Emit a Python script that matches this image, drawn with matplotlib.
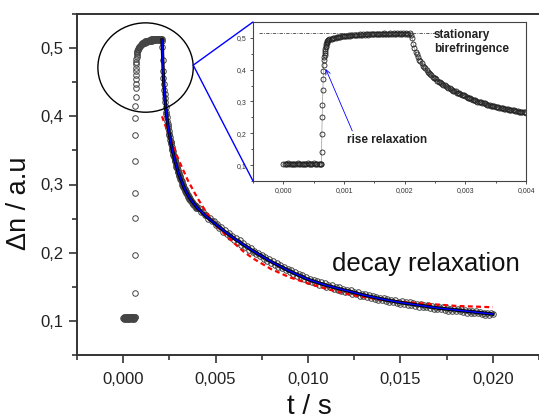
import numpy as np
import matplotlib
matplotlib.use('Agg')
import matplotlib.pyplot as plt
from matplotlib.patches import Ellipse, ConnectionPatch
from matplotlib.ticker import MultipleLocator, FuncFormatter

plt.rcParams['font.family'] = ['Liberation Sans', 'DejaVu Sans']

# measured birefringence: baseline, rise, plateau, early decay, late decay
base_t0, base_dt = 0.0, 0.00002
base_y = [0.104, 0.105, 0.103, 0.104, 0.106, 0.104, 0.103, 0.105, 0.104, 0.103,
          0.105, 0.104, 0.106, 0.103, 0.104, 0.105, 0.104, 0.103, 0.105, 0.104,
          0.106, 0.104, 0.103, 0.105, 0.104, 0.106, 0.103, 0.104, 0.105, 0.103,
          0.104, 0.105]
rise_t0, rise_dt = 0.000625, 0.000005
rise_y = [0.105, 0.141, 0.197, 0.251, 0.288, 0.335, 0.372, 0.397, 0.415, 0.429, 0.441,
          0.447, 0.454, 0.460, 0.466, 0.471, 0.476, 0.480, 0.484, 0.487, 0.490, 0.493]
plat_t0, plat_dt = 0.00074, 0.00002
plat_y = [0.494, 0.496, 0.497, 0.498, 0.499, 0.500, 0.501, 0.502, 0.503, 0.503,
          0.504, 0.505, 0.505, 0.506, 0.506, 0.507, 0.507, 0.508, 0.507, 0.508,
          0.509, 0.508, 0.509, 0.510, 0.509, 0.510, 0.511, 0.510, 0.509, 0.511,
          0.510, 0.511, 0.512, 0.510, 0.511, 0.512, 0.511, 0.513, 0.512, 0.511,
          0.512, 0.513, 0.511, 0.512, 0.513, 0.512, 0.514, 0.512, 0.513, 0.512,
          0.513, 0.514, 0.512, 0.513, 0.514, 0.513, 0.512, 0.514, 0.513, 0.514,
          0.513, 0.512, 0.514, 0.513, 0.514, 0.513, 0.512, 0.514]
dec1_t0, dec1_dt = 0.00210, 0.00002
dec1_y = [0.510, 0.501, 0.482, 0.467, 0.456, 0.448, 0.439, 0.432, 0.427, 0.421,
          0.413, 0.407, 0.404, 0.399, 0.393, 0.389, 0.386, 0.383, 0.378, 0.374,
          0.373, 0.370, 0.365, 0.362, 0.362, 0.359, 0.355, 0.352, 0.351, 0.349,
          0.345, 0.343, 0.342, 0.340, 0.336, 0.334, 0.334, 0.332, 0.328, 0.326,
          0.326, 0.324, 0.321, 0.319, 0.319, 0.317, 0.314, 0.312, 0.312, 0.311,
          0.308, 0.306, 0.306, 0.305, 0.302, 0.300, 0.300, 0.299, 0.297, 0.295,
          0.295, 0.294, 0.292, 0.290, 0.290, 0.289, 0.287, 0.286, 0.286, 0.285,
          0.283, 0.282, 0.282, 0.281, 0.279, 0.279, 0.279, 0.277, 0.276, 0.276,
          0.275, 0.274, 0.274, 0.272, 0.272, 0.272, 0.270, 0.270, 0.270, 0.268,
          0.268, 0.268, 0.266, 0.267, 0.266, 0.265]
dec2_t0, dec2_dt = 0.0041, 0.0001
dec2_y = [0.265, 0.260, 0.259, 0.255, 0.256, 0.250, 0.251, 0.246, 0.246, 0.241,
          0.242, 0.236, 0.237, 0.231, 0.233, 0.227, 0.229, 0.223, 0.225, 0.219,
          0.221, 0.215, 0.218, 0.212, 0.214, 0.208, 0.210, 0.204, 0.207, 0.201,
          0.203, 0.198, 0.200, 0.195, 0.197, 0.191, 0.194, 0.188, 0.191, 0.185,
          0.188, 0.182, 0.185, 0.179, 0.182, 0.177, 0.179, 0.174, 0.176, 0.171,
          0.174, 0.169, 0.171, 0.166, 0.169, 0.164, 0.167, 0.162, 0.164, 0.159,
          0.162, 0.157, 0.160, 0.155, 0.158, 0.153, 0.157, 0.152, 0.155, 0.150,
          0.153, 0.149, 0.152, 0.147, 0.150, 0.146, 0.149, 0.144, 0.147, 0.143,
          0.146, 0.142, 0.145, 0.140, 0.143, 0.139, 0.142, 0.137, 0.140, 0.136,
          0.139, 0.135, 0.138, 0.133, 0.136, 0.132, 0.135, 0.131, 0.134, 0.130,
          0.133, 0.129, 0.132, 0.128, 0.131, 0.127, 0.130, 0.126, 0.128, 0.125,
          0.129, 0.125, 0.128, 0.124, 0.127, 0.123, 0.126, 0.122, 0.125, 0.121,
          0.125, 0.121, 0.124, 0.120, 0.123, 0.119, 0.122, 0.118, 0.121, 0.117,
          0.121, 0.117, 0.120, 0.116, 0.119, 0.115, 0.118, 0.114, 0.117, 0.114,
          0.118, 0.114, 0.117, 0.113, 0.116, 0.112, 0.115, 0.111, 0.114, 0.111,
          0.115, 0.111, 0.113, 0.110, 0.112, 0.109, 0.112, 0.108, 0.111, 0.110]

# fitted curves
fit_t = [0.0021, 0.00212, 0.00216, 0.0022, 0.00228, 0.0024, 0.0026, 0.0028, 0.0030, 0.0033,
         0.0036, 0.0040, 0.0045, 0.0050, 0.0055, 0.0060, 0.0065, 0.0070, 0.0075, 0.0080,
         0.0085, 0.0090, 0.0095, 0.0100, 0.0110, 0.0120, 0.0130, 0.0140, 0.0150, 0.0160,
         0.0170, 0.0180, 0.0190, 0.0200]
fit_y = [0.512, 0.500, 0.468, 0.447, 0.420, 0.390, 0.358, 0.335, 0.316, 0.295,
         0.280, 0.266, 0.253, 0.242, 0.231, 0.221, 0.212, 0.203, 0.195, 0.187,
         0.180, 0.173, 0.167, 0.161, 0.152, 0.145, 0.138, 0.132, 0.127, 0.123,
         0.119, 0.116, 0.113, 0.110]
mono_t = [0.0021, 0.0025, 0.0030, 0.0035, 0.0040, 0.0045, 0.0050, 0.0055, 0.0060, 0.0065,
          0.0070, 0.0075, 0.0080, 0.0090, 0.0100, 0.0110, 0.0120, 0.0130, 0.0140, 0.0150,
          0.0160, 0.0170, 0.0180, 0.0190, 0.0200]
mono_y = [0.400, 0.370, 0.336, 0.306, 0.281, 0.259, 0.241, 0.227, 0.214, 0.202,
          0.192, 0.184, 0.176, 0.164, 0.155, 0.147, 0.140, 0.135, 0.131, 0.128,
          0.126, 0.124, 0.122, 0.121, 0.120]
stationary = 0.515

segs = [(base_t0, base_dt, base_y), (rise_t0, rise_dt, rise_y), (plat_t0, plat_dt, plat_y),
        (dec1_t0, dec1_dt, dec1_y), (dec2_t0, dec2_dt, dec2_y)]
t = np.concatenate([t0 + dt * np.arange(len(y)) for t0, dt, y in segs])
dn = np.concatenate([np.array(y) for _, _, y in segs])


def comma(d):
    return FuncFormatter(lambda v, p: (('%.' + str(d) + 'f') % v).replace('.', ','))


fig = plt.figure(figsize=(5.39, 4.20), dpi=100)
ax = fig.add_axes([77 / 539, 1 - 355 / 420, 462 / 539, 341 / 420])

ax.plot(t, dn, 'o', ms=4, mfc='none', mec='#444444', mew=0.7, zorder=2)
ax.plot(mono_t, mono_y, color='red', lw=1.6, ls=(0, (2.2, 1.5)), zorder=3)
ax.plot(fit_t, fit_y, color='black', lw=2.4, zorder=4)
ax.plot(fit_t, fit_y, color='#0000ff', lw=1.1, zorder=5)

ax.set_xlim(-0.0025, 0.0225)
ax.set_ylim(0.05, 0.55)
ax.xaxis.set_major_locator(MultipleLocator(0.005))
ax.xaxis.set_minor_locator(MultipleLocator(0.0025))
ax.yaxis.set_major_locator(MultipleLocator(0.1))
ax.yaxis.set_minor_locator(MultipleLocator(0.05))
ax.xaxis.set_major_formatter(comma(3))
ax.yaxis.set_major_formatter(comma(1))
ax.tick_params(which='both', direction='out', width=1.2, color='#333333', labelsize=12,
               labelcolor='#222222')
ax.tick_params(which='major', length=6)
ax.tick_params(which='minor', length=3.5)
ax.tick_params(axis='x', pad=6)
ax.spines['right'].set_visible(False)
for s in ['left', 'bottom', 'top']:
    ax.spines[s].set_linewidth(1.4)
    ax.spines[s].set_color('#333333')

ax.text(0.0164, 0.183, 'decay relaxation', fontsize=18.5, ha='center', va='center',
        color='#111111')
fig.text(19 / 539, 1 - 203 / 420, 'Δn / a.u', rotation=90, fontsize=19.5,
         ha='center', va='center', color='#111111')
fig.text(309 / 539, 1 - 407 / 420, 't / s', fontsize=20, ha='center', va='center',
         color='#111111')

ell = Ellipse((0.00121, 0.4715), 0.00516, 0.131, fill=False, ec='black', lw=1.0, zorder=6)
ax.add_patch(ell)

ins = fig.add_axes([253 / 539, 1 - 181 / 420, 273 / 539, 159 / 420])
ins.plot(t, dn, '-', color='#999999', lw=0.5, zorder=1)
ins.plot(t, dn, 'o', ms=3.6, mfc='none', mec='#222222', mew=0.6, zorder=2)
ins.plot([-0.0004, 0.00258], [stationary, stationary], color='#444444', lw=0.6,
         ls=(0, (4, 1.5, 1, 1.5)), zorder=3)
ins.set_xlim(-0.0005, 0.004)
ins.set_ylim(0.05, 0.55)
ins.xaxis.set_major_locator(MultipleLocator(0.001))
ins.xaxis.set_minor_locator(MultipleLocator(0.0005))
ins.yaxis.set_major_locator(MultipleLocator(0.1))
ins.yaxis.set_minor_locator(MultipleLocator(0.05))
ins.xaxis.set_major_formatter(comma(3))
ins.yaxis.set_major_formatter(comma(1))
ins.tick_params(which='both', direction='out', width=0.6, labelsize=5, pad=2,
                color='#333333', labelcolor='#333333')
ins.tick_params(which='major', length=2.5)
ins.tick_params(which='minor', length=1.5)
for s in ins.spines.values():
    s.set_linewidth(0.8)
    s.set_color('#444444')

ins.text(0.00248, 0.527, 'stationary\nbirefringence', fontsize=8.5, fontweight='bold',
         ha='left', va='top', linespacing=1.15, color='#222222')
ins.annotate('rise relaxation', xy=(0.0007, 0.402), xytext=(0.00105, 0.180),
             fontsize=8.5, fontweight='bold', ha='left', va='center', color='#222222',
             arrowprops=dict(arrowstyle='->', color='#0000ff', lw=0.6,
                             shrinkA=0, shrinkB=0, relpos=(0.08, 1.0)))

for yf in (1, 0):
    con = ConnectionPatch(xyA=(0.00379, 0.475), coordsA=ax.transData,
                          xyB=(0, yf), coordsB=ins.transAxes,
                          color='#0000ff', lw=1.0, zorder=7)
    fig.add_artist(con)

fig.savefig('out.png', dpi=100)
